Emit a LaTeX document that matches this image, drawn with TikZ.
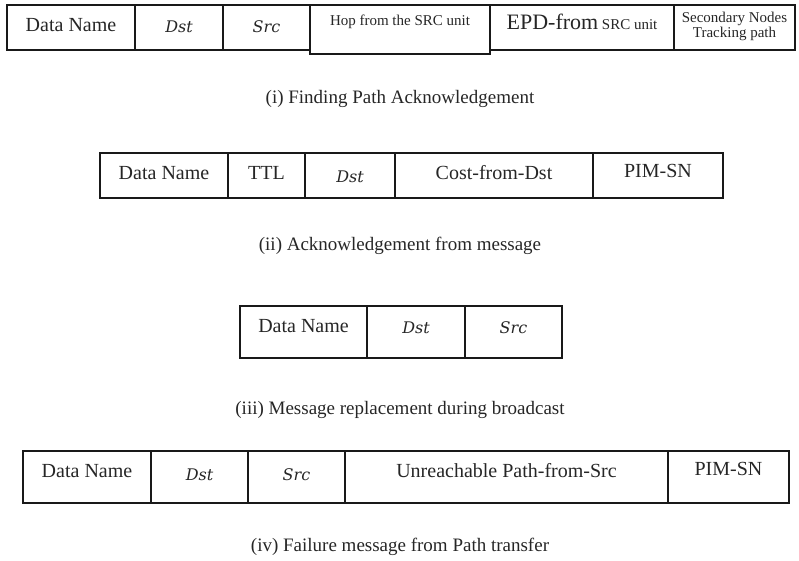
\documentclass[tikz,border=0pt]{standalone}
\usepackage{fontspec}
\setmainfont{Liberation Serif}
\newfontfamily\varfont{DejaVu Serif}
\tikzset{
  x=1pt,y=-1pt,
  cellbox/.style={draw=black!90, line width=1.1pt, inner sep=0pt, outer sep=0pt, anchor=north west},
  txt/.style={anchor=base, inner sep=0pt, text=black!85, font=\fontsize{20}{24}\selectfont},
  smalltxt/.style={anchor=base, inner sep=0pt, text=black!85, font=\fontsize{15}{18}\selectfont},
  mtxt/.style={anchor=base, inner sep=0pt, text=black!85, font=\varfont\itshape\fontsize{16}{20}\selectfont},
  captxt/.style={anchor=base, inner sep=0pt, text=black!85, font=\fontsize{19}{23}\selectfont}
}
\begin{document}
\begin{tikzpicture}
\useasboundingbox (0,0) rectangle (799,560);
% Row 1
\node[cellbox, minimum width=128pt, minimum height=45pt] (a1) at (7,5) {};
\node[cellbox, minimum width=88pt, minimum height=45pt] (a2) at (135,5) {};
\node[cellbox, minimum width=87pt, minimum height=45pt] (a3) at (223,5) {};
\node[cellbox, minimum width=180pt, minimum height=49pt] (a4) at (310,5) {};
\node[cellbox, minimum width=184pt, minimum height=45pt] (a5) at (490,5) {};
\node[cellbox, minimum width=121pt, minimum height=45pt] (a6) at (674,5) {};
\node[txt] (a1t) at (71,31) {Data Name};
\node[mtxt] (a2t) at (179,32) {Dst};
\node[mtxt] (a3t) at (266.5,32) {Src};
\node[smalltxt] (a4t) at (400,25) {Hop from the SRC unit};
\node[anchor=base, inner sep=0pt, text=black!85] (a5t) at (582,29) {\fontsize{22}{26}\selectfont EPD-from\,\fontsize{15}{18}\selectfont SRC unit};
\node[smalltxt] (a6t) at (734.5,22) {Secondary Nodes};
\node[smalltxt] (a6u) at (734.5,37) {Tracking path};
\node[captxt] (cap1) at (400,103) {(i) Finding Path Acknowledgement};
% Row 2
\node[cellbox, minimum width=128pt, minimum height=45pt] (b1) at (100,153) {};
\node[cellbox, minimum width=77pt, minimum height=45pt] (b2) at (228,153) {};
\node[cellbox, minimum width=90pt, minimum height=45pt] (b3) at (305,153) {};
\node[cellbox, minimum width=198pt, minimum height=45pt] (b4) at (395,153) {};
\node[cellbox, minimum width=130pt, minimum height=45pt] (b5) at (593,153) {};
\node[txt] (b1t) at (164,179) {Data Name};
\node[txt] (b2t) at (266.5,179) {TTL};
\node[mtxt] (b3t) at (350,182) {Dst};
\node[txt] (b4t) at (494,179) {Cost-from-Dst};
\node[txt] (b5t) at (658,177) {PIM-SN};
\node[captxt] (cap2) at (400,250) {(ii) Acknowledgement from message};
% Row 3
\node[cellbox, minimum width=127pt, minimum height=52pt] (c1) at (240,306) {};
\node[cellbox, minimum width=98pt, minimum height=52pt] (c2) at (367,306) {};
\node[cellbox, minimum width=97pt, minimum height=52pt] (c3) at (465,306) {};
\node[txt] (c1t) at (303.5,332) {Data Name};
\node[mtxt] (c2t) at (416,333) {Dst};
\node[mtxt] (c3t) at (513.5,333) {Src};
\node[captxt] (cap3) at (400,414) {(iii) Message replacement during broadcast};
% Row 4
\node[cellbox, minimum width=128pt, minimum height=52pt] (d1) at (23,451) {};
\node[cellbox, minimum width=97pt, minimum height=52pt] (d2) at (151,451) {};
\node[cellbox, minimum width=97pt, minimum height=52pt] (d3) at (248,451) {};
\node[cellbox, minimum width=323pt, minimum height=52pt] (d4) at (345,451) {};
\node[cellbox, minimum width=121pt, minimum height=52pt] (d5) at (668,451) {};
\node[txt] (d1t) at (87,477) {Data Name};
\node[mtxt] (d2t) at (199.5,480) {Dst};
\node[mtxt] (d3t) at (296.5,480) {Src};
\node[txt] (d4t) at (506.5,477) {Unreachable Path-from-Src};
\node[txt] (d5t) at (728.5,475) {PIM-SN};
\node[captxt] (cap4) at (400,551) {(iv) Failure message from Path transfer};
\end{tikzpicture}
\end{document}
